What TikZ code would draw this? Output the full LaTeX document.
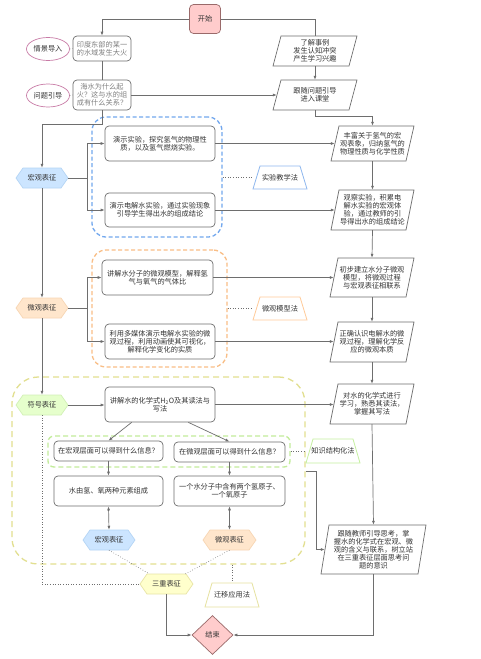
\documentclass[tikz,border=0pt]{standalone}
\usepackage{fontspec}
\setmainfont{Noto Sans CJK SC}
\usetikzlibrary{shapes.geometric,arrows.meta,calc}
\definecolor{lin}{HTML}{6E6E6E}
\definecolor{txtc}{HTML}{333333}
\definecolor{pinkf}{HTML}{FFCCCC}
\definecolor{pinkb}{HTML}{9A6A6A}
\definecolor{ellb}{HTML}{C87BA6}
\definecolor{bluef}{HTML}{CCE5FF}
\definecolor{blueb}{HTML}{B5D5F5}
\definecolor{bluec}{HTML}{73A8EE}
\definecolor{bluet}{HTML}{8EB7EE}
\definecolor{orangef}{HTML}{FFE6CC}
\definecolor{orangeb}{HTML}{F7D6B4}
\definecolor{orangec}{HTML}{F9BE86}
\definecolor{oranget}{HTML}{FFCB99}
\definecolor{greenf}{HTML}{E6FFCC}
\definecolor{greenb}{HTML}{D2F0B6}
\definecolor{greenc}{HTML}{C2EC9A}
\definecolor{greent}{HTML}{C5F0A0}
\definecolor{yellf}{HTML}{FFFFCC}
\definecolor{yellb}{HTML}{E8E4A6}
\definecolor{yellc}{HTML}{E2DF90}
\definecolor{yellt}{HTML}{E6E2A0}
\tikzset{
  x=1pt, y=-1pt,
  txt/.style={text=txtc, font=\fontsize{7.2}{8}\selectfont, align=center, inner sep=0pt},
  rbox/.style={txt, draw=lin, fill=white, rounded corners=4pt, line width=0.7pt},
  pbord/.style={draw=lin, fill=white, line width=0.7pt},
  arr/.style={draw=lin, line width=0.7pt, -{Latex[length=4pt,width=3pt]}},
  darr/.style={draw=lin, line width=0.7pt, {Latex[length=4pt,width=3pt]}-{Latex[length=4pt,width=3pt]}},
  ln/.style={draw=lin, line width=0.7pt},
  dot/.style={draw=lin, line width=0.6pt, dotted},
  cont/.style={dashed, line width=1.3pt, fill=none},
}
\newcommand\mkhex[7]{%
  \draw[#6, line width=0.7pt] ({#2-#4/2},#3) -- ({#2-#4/2+7},{#3-#5/2}) -- ({#2+#4/2-7},{#3-#5/2}) -- ({#2+#4/2},#3) -- ({#2+#4/2-7},{#3+#5/2}) -- ({#2-#4/2+7},{#3+#5/2}) -- cycle;
  \node[txt, minimum width=#4, minimum height=#5] (#1) at (#2,#3) {#7};}
\newcommand\mkpara[6]{%
  \draw[pbord] ({#2-#4/2},{#3+#5/2}) -- ({#2-#4/2+8},{#3-#5/2}) -- ({#2+#4/2},{#3-#5/2}) -- ({#2+#4/2-8},{#3+#5/2}) -- cycle;
  \node[txt, minimum width={#4-8}, minimum height=#5] (#1) at (#2,#3) {#6};}
\newcommand\mktrap[7]{%
  \draw[draw=#6, fill=white, line width=0.8pt] ({#2-#4/2},{#3+#5/2}) -- ({#2-#4/2+7},{#3-#5/2}) -- ({#2+#4/2-7},{#3-#5/2}) -- ({#2+#4/2},{#3+#5/2}) -- cycle;
  \node[txt, minimum width=#4, minimum height=#5] (#1) at (#2,#3) {#7};}
\begin{document}
\begin{tikzpicture}
\useasboundingbox[fill=white] (0,0) rectangle (481,659);
% containers
\node[cont, draw=bluec, dash pattern=on 4pt off 2.5pt, rounded corners=14pt, minimum width=130, minimum height=120] (c1) at (157,177) {};
\node[cont, draw=orangec, dash pattern=on 4pt off 2.5pt, rounded corners=14pt, minimum width=135, minimum height=117] (c2) at (159.5,308.5) {};
\node[cont, draw=yellc, dash pattern=on 6pt off 4pt, rounded corners=26pt, minimum width=293, minimum height=187] (c3) at (158.5,470.5) {};
\node[cont, draw=greenc, dash pattern=on 5pt off 3pt, rounded corners=6pt, minimum width=242, minimum height=31] (c4) at (169,451.5) {};
% top
\node[txt, draw=pinkb, fill=pinkf, rounded corners=4pt, line width=0.7pt, minimum width=31, minimum height=29] (start) at (205,19) {开始};
\node[txt, ellipse, draw=ellb, fill=white, line width=0.7pt, minimum width=43, minimum height=23] (e1) at (48,49) {情景导入};
\node[txt, ellipse, draw=ellb, fill=white, line width=0.7pt, minimum width=43, minimum height=23] (e2) at (48,95.5) {问题引导};
\node[rbox, text=gray, minimum width=58, minimum height=25] (q1) at (102,48.5) {印度东部的某一\\的水域发生大火};
\node[rbox, text=gray, minimum width=58, minimum height=30] (q2) at (102,95) {海水为什么起\\火？这与水的组\\成有什么关系？};
\mkpara{p1}{315}{51}{84}{30}{了解事例\\发生认知冲突\\产生学习兴趣}
\mkpara{p2}{315}{95}{84}{30}{跟随问题引导\\进入课堂}
% macro section
\mkhex{h1}{42}{178}{52}{20}{fill=bluef, draw=blueb}{宏观表征}
\node[rbox, minimum width=110, minimum height=35] (b1) at (160,143.5) {演示实验，探究氢气的物理性\\质，以及氢气燃烧实验。};
\node[rbox, minimum width=110, minimum height=34] (b2) at (160,210) {演示电解水实验，通过实验现象\\引导学生得出水的组成结论};
\mkpara{p3}{372.5}{143.5}{83}{35}{丰富关于氢气的宏\\观表象，归纳氢气的\\物理性质与化学性质}
\mkpara{p4}{372.5}{210}{83}{40}{观察实验，积累电\\解水实验的宏观体\\验，通过教师的引\\导得出水的组成结论}
\mktrap{t1}{280}{177.5}{54}{23}{bluet}{实验教学法}
% micro section
\mkhex{h2}{42}{308}{52}{20}{fill=orangef, draw=orangeb}{微观表征}
\node[rbox, minimum width=111, minimum height=35] (b3) at (157.5,277.5) {讲解水分子的微观模型，解释氢\\气与氧气的气体比};
\node[rbox, minimum width=110, minimum height=35] (b4) at (160,341.5) {利用多媒体演示电解水实验的微\\观过程，利用动画使其可视化，\\解释化学变化的实质};
\mkpara{p5}{372}{277.5}{84}{39}{初步建立水分子微观\\模型，将微观过程\\与宏观表征相联系}
\mkpara{p6}{372}{342}{84}{40}{正确认识电解水的微\\观过程，理解化学反\\应的微观本质}
\mktrap{t2}{280}{308.5}{54}{23}{oranget}{微观模型法}
% symbol section
\mkhex{h3}{42}{405}{52}{20}{fill=greenf, draw=greenb}{符号表征}
\node[rbox, minimum width=110, minimum height=35] (b5) at (160,404.5) {讲解水的化学式H\textsubscript{2}O及其读法与\\写法};
\mkpara{p8}{372}{404}{84}{40}{对水的化学式进行\\学习，熟悉其读法，\\掌握其写法}
\node[rbox, minimum width=109, minimum height=20] (i1) at (108.5,451) {在宏观层面可以得到什么信息？};
\node[rbox, minimum width=111, minimum height=20] (i2) at (229.5,452) {在微观层面可以得到什么信息？};
\node[rbox, minimum width=109, minimum height=30] (r1) at (108.5,491) {水由氢、氧两种元素组成};
\node[rbox, minimum width=111, minimum height=30] (r2) at (229.5,491) {一个水分子中含有两个氢原子、\\一个氧原子};
\mkhex{h4}{109}{540}{52}{20}{fill=bluef, draw=blueb}{宏观表征}
\mkhex{h5}{229.5}{540}{53}{20}{fill=orangef, draw=orangeb}{微观表征}
\mktrap{t3}{333}{451}{54}{24}{greent}{知识结构化法}
\mkpara{p7}{373.5}{549.5}{105}{49}{跟随教师引导思考，掌\\握水的化学式在宏观、微\\观的含义与联系，树立站\\在三重表征层面思考问\\题的意识}
\mkhex{h6}{166.5}{584}{53}{20}{fill=yellf, draw=yellb}{三重表征}
\mktrap{t4}{232}{595}{54}{24}{yellt}{迁移应用法}
\node[txt, diamond, draw=pinkb, fill=pinkf, line width=0.7pt, minimum width=41, minimum height=39] (end) at (212.5,635) {结束};
% connectors top
\draw[arr] (start.west) -| (q1.north);
\draw[ln] (start.east) -| (p1.north);
\draw[dot] (e1.east) -- (q1.west);
\draw[dot] (e2.east) -- (q2.west);
\draw[ln] (q1.south) -- (q2.north);
\draw[arr] (q2.east) -- (q2.east -| p2.west);
\draw[arr] (p1.south) -- (p2.north);
\draw[arr] (p2.south) -- (315,116) -| (p3.north);
\draw[arr] (q2.south) -- (102,124) -| (h1.north);
% macro
\coordinate (j1) at (87,178);
\draw[ln] (h1.east) -- (j1);
\draw[arr] (j1) |- (b1.west);
\draw[arr] (j1) |- (b2.west);
\draw[arr] (b1.east) -- (b1.east -| p3.west);
\draw[arr] (b2.east) -- (b2.east -| p4.west);
\draw[arr] (p3.south) -- (p4.north);
\draw[dot] (c1.east |- t1.west) -- (t1.west);
\draw[arr] (p4.south) -- (p5.north);
\draw[arr] (h1.south) -- (h2.north);
% micro
\coordinate (j2) at (87,308);
\draw[ln] (h2.east) -- (j2);
\draw[arr] (j2) |- (b3.west);
\draw[arr] (j2) |- (b4.west);
\draw[arr] (b3.east) -- (b3.east -| p5.west);
\draw[arr] (b4.east) -- (b4.east -| p6.west);
\draw[arr] (p5.south) -- (p6.north);
\draw[dot] (c2.east |- t2.west) -- (t2.west);
\draw[arr] (p6.south) -- (p8.north);
\draw[arr] (h2.south) -- (h3.north);
% symbol
\draw[arr] (h3.east) -- (h3.east -| b5.west);
\draw[arr] (b5.east) -- (b5.east -| p8.west);
\draw[arr] ([xshift=27pt]b5.south west) -- (i1.north);
\draw[arr] ([xshift=-27pt]b5.south east) -- (i2.north);
\draw[arr] (i1.south) -- (r1.north);
\draw[arr] (i2.south) -- (r2.north);
\draw[darr] (r1.south) -- (h4.north);
\draw[darr] (r2.south) -- (h5.north);
\draw[dot] (c4.east |- t3.west) -- (t3.west);
\draw[arr] (p8.south) -- (p7.north);
\draw[arr] (c3.east |- 0,471) -- (316,471) |- (p7.west);
% triple
\draw[dot] (h4.south) -- (h6);
\draw[dot] (h5.south) -- (h6);
\draw[dot] (h3.south) |- (h6.west);
\draw[dot] (t4.north |- c3.south) -- (t4.north);
\draw[arr] (h6.south) |- (end.west);
\draw[arr] (p7.south) |- (end.east);
\end{tikzpicture}
\end{document}
